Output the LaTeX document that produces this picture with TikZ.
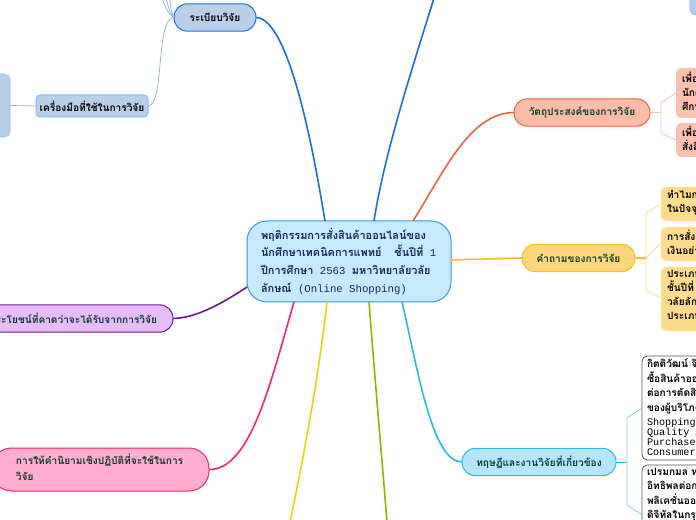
\documentclass[tikz,border=0pt]{standalone}
\usepackage{fontspec}
\newfontfamily\thaifont[Script=Thai]{Loma}
\newfontfamily\lat{Liberation Mono}
\newcommand{\mono}[1]{{\lat\mdseries\fontsize{8}{13.2}\selectfont #1}}
\definecolor{tgreen}{HTML}{0B3B2E}
\definecolor{tnavy}{HTML}{14285A}
\definecolor{cfill}{HTML}{C5E9FD}
\definecolor{cline}{HTML}{3A9AD9}
\definecolor{bfill}{HTML}{B9CFE9}
\definecolor{bline}{HTML}{1A6FD8}
\definecolor{blight}{HTML}{8DB8F0}
\definecolor{ofill}{HTML}{FBBCAA}
\definecolor{oline}{HTML}{F4623A}
\definecolor{ofill2}{HTML}{FCC0AE}
\definecolor{yfill}{HTML}{FFD77A}
\definecolor{yline}{HTML}{FDBB2D}
\definecolor{yfill2}{HTML}{FFDC8C}
\definecolor{lfill}{HTML}{B3E5FC}
\definecolor{lline}{HTML}{29B6F6}
\definecolor{pfill}{HTML}{E8BBFB}
\definecolor{pline}{HTML}{6A1B8A}
\definecolor{rfill}{HTML}{FFAED0}
\definecolor{rline}{HTML}{F0247A}
\definecolor{yel}{HTML}{EBD600}
\definecolor{grn}{HTML}{86BC00}
\tikzset{
  base/.style={inner sep=0pt,outer sep=0pt,font=\thaifont\bfseries\fontsize{7.6}{10.5}\selectfont},
  main/.style={base,draw,line width=0.75pt,rounded corners=10pt,minimum height=20.5pt,text=tgreen,align=center},
  sub/.style={base,draw=none,rounded corners=4.5pt,text=tgreen,align=left},
  link/.style={line width=1.2pt},
  twig/.style={line width=0.6pt},
  txt/.style={base,anchor=west,align=left},
}
\begin{document}
\begin{tikzpicture}[x=0.75pt,y=-0.75pt]
\useasboundingbox (0,0) rectangle (696,520);
\clip (0,0) rectangle (696,520);
% anchors for free ends
\coordinate (topA) at (434,-2);
\coordinate (yelEnd) at (290,522);
\coordinate (grnEnd) at (387,522);
% center
\node[base,draw=cline,fill=cfill,line width=0.75pt,rounded corners=15pt,minimum width=153pt,minimum height=60.75pt,anchor=north west] (center) at (247,221) {};
\node[txt,text=tnavy,anchor=north west,font=\thaifont\bfseries\fontsize{8.2}{13.2}\selectfont] (centertext) at (261,228) {พฤติกรรมการสั่งสินค้าออนไลน์ของ\\นักศึกษาเทคนิคการแพทย์\mono{\ \ }ชั้นปีที่\mono{\ 1}\\ปีการศึกษา\mono{\ 2563\ }มหาวิทยาลัยวลัย\\ลักษณ์\mono{\ (Online Shopping)}};
% main nodes
\node[main,draw=bline,fill=bfill,minimum width=61.5pt,text=black] (regs) at (215,17.5) {ระเบียบวิจัย};
\node[main,draw=blight,fill=bfill,minimum width=84pt,minimum height=16.5pt,rounded corners=3pt,text=black] (tools) at (92,106) {เครื่องมือที่ใช้ในการวิจัย};
\node[base,draw=blight,fill=bfill,rounded corners=4pt,minimum width=22.5pt,minimum height=47.25pt,anchor=north west] (toolbox) at (-20,74) {};
\node[base,draw=blight,fill=blight!70,rounded corners=4pt,minimum width=15pt,minimum height=22.5pt,anchor=south west] (topbox) at (690,15) {};
\node[main,draw=oline,fill=ofill,minimum width=102pt] (obj) at (582,112.5) {วัตถุประสงค์ของการวิจัย};
\node[main,draw=yline,fill=yfill,minimum width=84.75pt] (ques) at (578.5,258) {คำถามของการวิจัย};
\node[main,draw=lline,fill=lfill,minimum width=115.5pt] (theo) at (539,462) {ทฤษฎีและงานวิจัยที่เกี่ยวข้อง};
\node[main,draw=pline,fill=pfill,inner xsep=12pt,anchor=east,text=tgreen] (bene) at (173,318.5) {ประโยชน์ที่คาดว่าจะได้รับจากการวิจัย};
\node[base,draw=rline,fill=rfill,line width=0.75pt,rounded corners=15pt,minimum width=163pt,minimum height=32.25pt,anchor=east] (defn) at (209,469.5) {};
\node[txt,text=tgreen,anchor=north west,font=\thaifont\bfseries\fontsize{7.6}{12}\selectfont] (defntext) at (16,454) {การให้คำนิยามเชิงปฏิบัติที่จะใช้ในการ\\วิจัย};
% sub boxes
\node[sub,fill=ofill2,minimum width=45pt,minimum height=37.5pt,anchor=north west] (o1) at (676,68) {};
\node[txt,anchor=north west,text=black] (o1t) at (682,72) {เพื่อ\\นักศึ\\ศึกษ};
\node[sub,fill=ofill2,minimum width=45pt,minimum height=25.5pt,anchor=north west] (o2) at (676,123) {};
\node[txt,anchor=north west,text=black] (o2t) at (682,126) {เพื่อ\\สั่งสิ};
\node[sub,fill=yfill2,minimum width=45pt,minimum height=25.5pt,anchor=north west] (q1) at (661,187) {};
\node[txt,anchor=north west,text=black] (q1t) at (667,190) {ทำไมก\\ในปัจจุบั};
\node[sub,fill=yfill2,minimum width=45pt,minimum height=25.5pt,anchor=north west] (q2) at (661,227) {};
\node[txt,anchor=north west,text=black] (q2t) at (667,230) {การสั่งสิ\\เงินอย่า};
\node[sub,fill=yfill2,minimum width=45pt,minimum height=48pt,anchor=north west] (q3) at (661,267) {};
\node[txt,anchor=north west,text=black] (q3t) at (667,270) {ประเภท\\ชั้นปีที่\mono{\ 1}\\วลัยลักษ\\ประเภท};
\node[base,draw=black!65,fill=white,line width=0.6pt,rounded corners=4pt,minimum width=60pt,minimum height=78pt,anchor=north west] (t1) at (642,356) {};
\node[txt,anchor=north west,text=black,font=\thaifont\bfseries\fontsize{7.6}{10.8}\selectfont] (t1t) at (647,359) {กิตติวัฒน์ จิ\\ซื้อสินค้าออน\\ต่อการตัดสิน\\ของผู้บริโภค};
\node[txt,anchor=north west,text=black,font=\lat\mdseries\fontsize{7.6}{7.5}\selectfont] (t1l) at (647,418.5) {Shopping\\Quality A\\Purchase\\Consumers};
\node[base,draw=black!65,fill=white,line width=0.6pt,rounded corners=4pt,minimum width=60pt,minimum height=60pt,anchor=north west] (t2) at (642,465) {};
\node[txt,anchor=north west,text=black,font=\thaifont\bfseries\fontsize{7.6}{10.8}\selectfont] (t2t) at (647,468) {เปรมกมล ห\\อิทธิพลต่อกา\\พลิเคชั่นออน\\ดิจิทัลในกรุง};
% connectors
\draw[link,bline] (325,221) .. controls (315,160) and (290,18) .. (regs.east);
\draw[link,bline] (374,221) .. controls (385,150) and (415,60) .. (topA);
\draw[link,oline] (413,221) .. controls (445,170) and (470,113) .. (obj.west);
\draw[link,yline] (451,260) -- (ques.west);
\draw[link,lline] (402,302) .. controls (418,370) and (432,462) .. (theo.west);
\draw[link,pline] (247,287) .. controls (220,305) and (195,318) .. (bene.east);
\draw[link,rline] (294,302) .. controls (270,385) and (250,470) .. (defn.east);
\draw[link,yel] (327,302) .. controls (318,380) and (305,450) .. (yelEnd);
\draw[link,grn] (369,302) .. controls (375,380) and (382,460) .. (grnEnd);
% twigs
\draw[twig,blight] (tools.east) .. controls (165,106) and (155,18) .. (regs.west);
\draw[twig,blight] (toolbox.east) -- (tools.west);
\draw[twig,blight] (regs.west) .. controls (168,14) and (165,6) .. (162,-2);
\draw[twig,blight] (regs.west) .. controls (170,14) and (168,6) .. (166,-2);
\draw[twig,blight] (regs.west) .. controls (171,12) and (170,4) .. (170,-2);
\coordinate (oj) at (661,112.5);
\draw[line width=1.2pt,ofill2] (obj.east) -- (oj);
\draw[twig,ofill2] (o1.west |- 0,93) -- (661,103) -- (661,133) -- (o2.west |- 0,140);
\coordinate (qj) at (646,258);
\draw[link,yline] (ques.east) -- (qj);
\draw[twig,yfill2] (q1.west |- 0,204) -- (646,213) -- (646,290) -- (q3.west |- 0,298);
\draw[twig,yfill2] (q2.west |- 0,243) -- (646,258);
\coordinate (tj) at (627,462);
\draw[twig,lline] (theo.east) -- (tj);
\draw[twig,lline!60] (t1.west |- 0,408) -- (627,418) -- (627,505) -- (t2.west |- 0,515);
\end{tikzpicture}
\end{document}
